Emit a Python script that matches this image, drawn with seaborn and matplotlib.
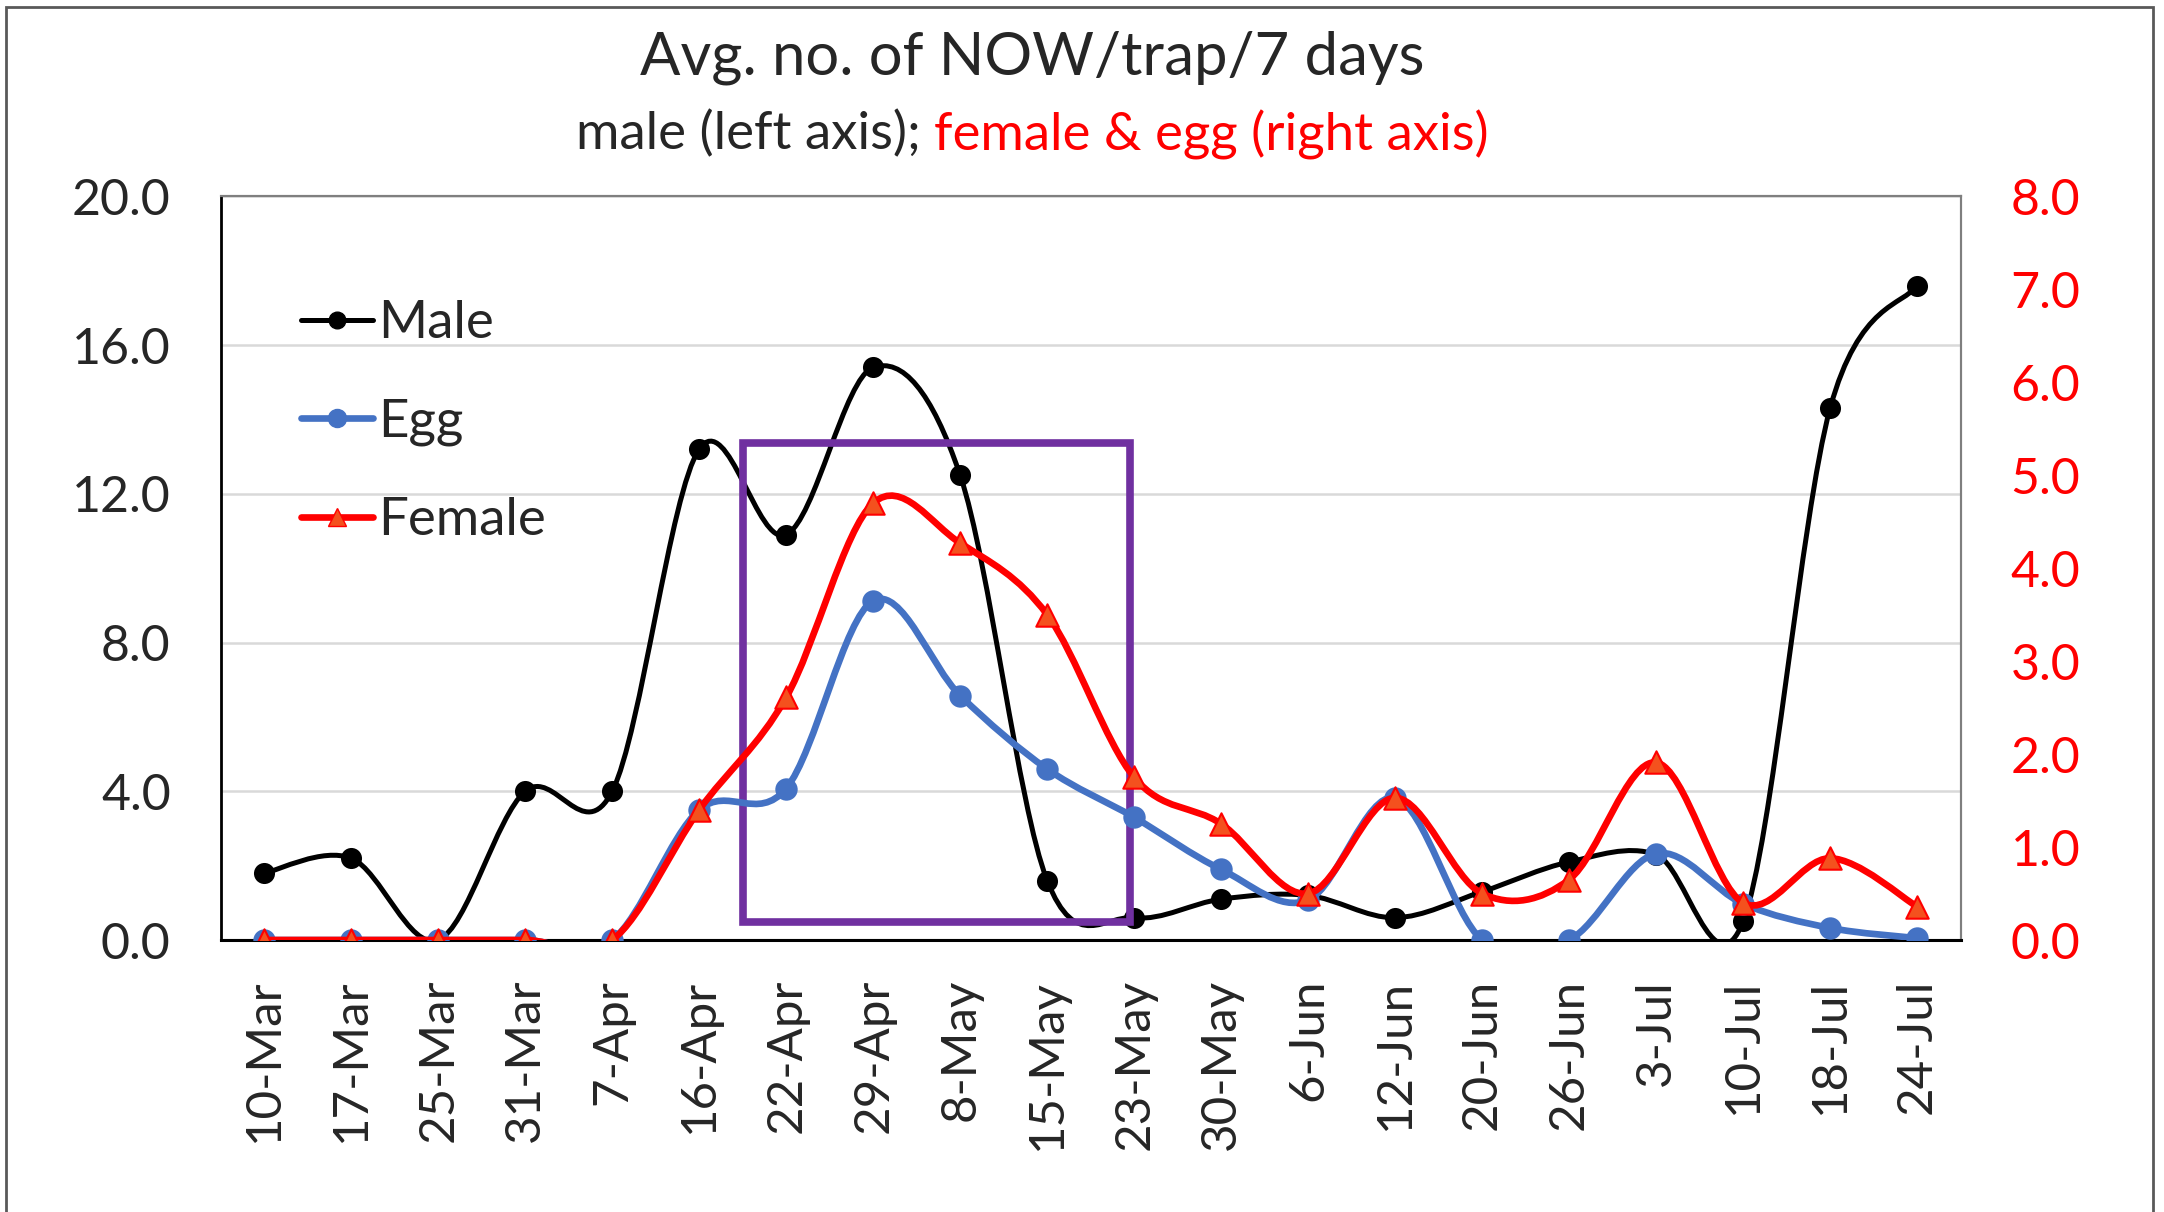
import numpy as np
import pandas as pd
import matplotlib
matplotlib.use("Agg")
import matplotlib.pyplot as plt
from matplotlib.path import Path
from matplotlib.patches import PathPatch, Rectangle
from matplotlib.lines import Line2D
import seaborn as sns

sns.set_style("white")
plt.rcParams['font.family'] = ['Lato', 'DejaVu Sans']

# data
dates = ["10-Mar", "17-Mar", "25-Mar", "31-Mar", "7-Apr", "16-Apr", "22-Apr", "29-Apr",
         "8-May", "15-May", "23-May", "30-May", "6-Jun", "12-Jun", "20-Jun", "26-Jun",
         "3-Jul", "10-Jul", "18-Jul", "24-Jul"]
male = [1.8, 2.2, 0.0, 4.0, 4.0, 13.2, 10.9, 15.4, 12.5, 1.6, 0.6, 1.1,
        1.2, 0.6, 1.3, 2.1, 2.3, 0.5, 14.3, 17.6]
egg = [0.0, 0.0, 0.0, 0.0, 0.0, 1.4, 1.63, 3.65, 2.63, 1.84, 1.32, 0.76,
       0.43, 1.53, 0.0, 0.0, 0.93, 0.39, 0.13, 0.02]
female = [0.0, 0.0, 0.0, 0.0, 0.0, 1.4, 2.61, 4.7, 4.27, 3.5, 1.75, 1.25,
          0.5, 1.53, 0.5, 0.65, 1.91, 0.4, 0.88, 0.36]

x = np.arange(len(dates))
df = pd.DataFrame({"x": x, "date": dates, "Male": male, "Egg": egg, "Female": female})

C_MALE = "black"
C_EGG = "#4472C4"
C_FEM = "#FF0000"
C_TRI = "#F4511E"


def smooth_path(xs, ys):
    # excel-style smoothed line: cubic bezier through every point
    p = np.column_stack([xs, ys]).astype(float)
    ext = np.vstack([p[0], p, p[-1]])
    verts = [p[0]]
    codes = [Path.MOVETO]
    for i in range(len(p) - 1):
        c1 = p[i] + (ext[i + 2] - ext[i]) / 6.0
        c2 = p[i + 1] - (ext[i + 3] - ext[i + 1]) / 6.0
        verts += [c1, c2, p[i + 1]]
        codes += [Path.CURVE4] * 3
    return Path(verts, codes)


fig = plt.figure(figsize=(21.64, 12.12), dpi=100)
ax = fig.add_axes([0.102, 0.2244, 0.804, 0.6136])
ax2 = ax.twinx()

# male on left axis
ax.add_patch(PathPatch(smooth_path(df.x, df.Male), fill=False, color=C_MALE, lw=3.6,
                       capstyle="round", joinstyle="round", zorder=3))
sns.scatterplot(data=df, x="x", y="Male", ax=ax, color=C_MALE, s=230, edgecolor=C_MALE,
                linewidth=0, zorder=4, legend=False)

# egg and female on right axis
ax2.add_patch(PathPatch(smooth_path(df.x, df.Egg), fill=False, color=C_EGG, lw=4.8,
                        capstyle="round", joinstyle="round", zorder=3))
sns.scatterplot(data=df, x="x", y="Egg", ax=ax2, color=C_EGG, s=260, edgecolor=C_EGG,
                linewidth=0, zorder=4, legend=False)
ax2.add_patch(PathPatch(smooth_path(df.x, df.Female), fill=False, color=C_FEM, lw=4.8,
                        capstyle="round", joinstyle="round", zorder=5))
sns.scatterplot(data=df, x="x", y="Female", ax=ax2, color=C_TRI, marker="^", s=260,
                edgecolor=C_FEM, linewidth=1.5, zorder=6, legend=False)

ax.set_xlim(-0.5, len(dates) - 0.5)
ax.set_ylim(0, 20)
ax2.set_ylim(0, 8)
ax.set_yticks(np.arange(0, 20.1, 4))
ax2.set_yticks(np.arange(0, 8.1, 1))
ax.set_yticklabels([f"{v:.1f}" for v in np.arange(0, 20.1, 4)])
ax2.set_yticklabels([f"{v:.1f}" for v in np.arange(0, 8.1, 1)])
ax.set_xticks(x)
ax.set_xticklabels(dates, rotation=90)
ax.set_xticks(np.arange(-0.5, len(dates), 1), minor=True)
ax.set_xlabel("")
ax.set_ylabel("")
ax2.set_ylabel("")

ax.grid(axis="y", color="#D9D9D9", lw=1.8, zorder=0)
ax.set_axisbelow(True)
ax.tick_params(axis="x", which="major", length=0, pad=28, labelsize=35.5)
ax.tick_params(axis="x", which="minor", length=13, width=1.5, color="#404040", direction="out")
ax.tick_params(axis="y", length=0, pad=36, labelsize=36)
ax2.tick_params(axis="y", length=0, pad=36, labelsize=36, labelcolor=C_FEM)

for a in (ax, ax2):
    for s in a.spines.values():
        s.set_color("#7F7F7F")
        s.set_linewidth(1.5)
ax.spines["left"].set_color("black")
ax.spines["left"].set_linewidth(2)
ax2.spines["bottom"].set_color("black")
ax2.spines["bottom"].set_linewidth(2.2)
ax2.spines["left"].set_visible(False)

# highlight box
ax.add_patch(Rectangle((5.5, 0.48), 4.45, 12.88, fill=False, edgecolor="#7030A0",
                       lw=5.5, zorder=7))

handles = [
    Line2D([], [], color=C_MALE, lw=3.6, marker="o", markersize=12),
    Line2D([], [], color=C_EGG, lw=4.8, marker="o", markersize=13),
    Line2D([], [], color=C_FEM, lw=4.8, marker="^", markersize=13,
           markerfacecolor=C_TRI, markeredgecolor=C_FEM),
]
ax2.legend(handles, ["Male", "Egg", "Female"], loc="upper left",
           bbox_to_anchor=(0.046, 0.86), frameon=False, fontsize=38,
           handlelength=1.36, handletextpad=0.1, labelspacing=0.97, borderpad=0,
           borderaxespad=0)

fig.text(0.477, 0.952, "Avg. no. of NOW/trap/7 days", ha="center", va="center", fontsize=43)

# two-colour subtitle
fig.canvas.draw()
r = fig.canvas.get_renderer()
t1 = fig.text(0, 0.889, "male (left axis); ", ha="left", va="center", fontsize=38)
t2 = fig.text(0, 0.889, "female & egg (right axis)", ha="left", va="center",
              fontsize=38, color=C_FEM)
w1 = t1.get_window_extent(r).width / fig.bbox.width
w2 = t2.get_window_extent(r).width / fig.bbox.width
x0 = 0.477 - (w1 + w2) / 2
t1.set_x(x0)
t2.set_x(x0 + w1)

# outer chart border
fig.patches.append(Rectangle((0.003, -0.1), 0.992, 1.094, transform=fig.transFigure,
                             fill=False, edgecolor="#595959", lw=2))

fig.savefig("out.png", dpi=100)
